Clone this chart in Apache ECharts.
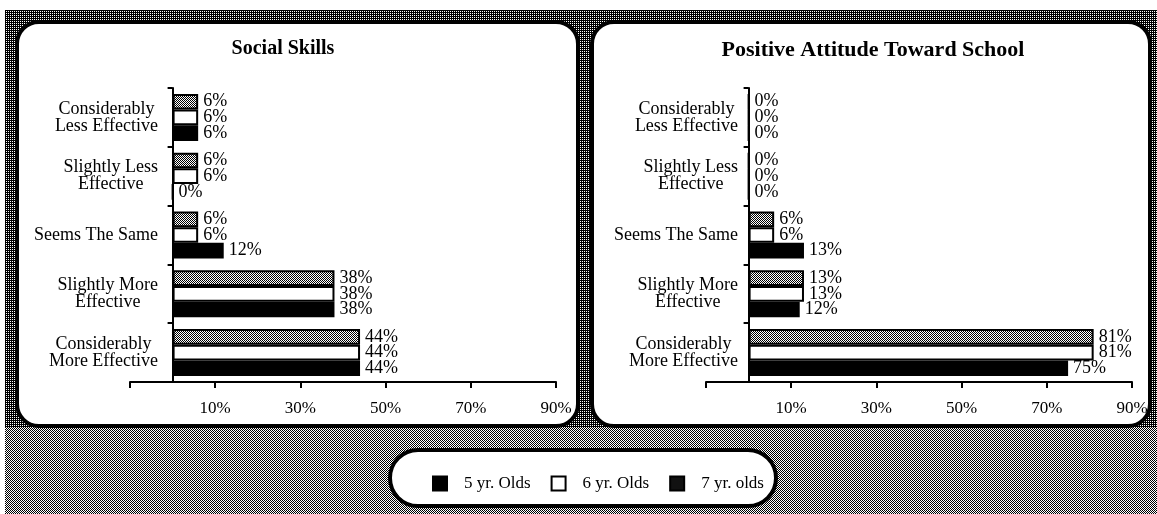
<!DOCTYPE html>
<html><head><meta charset="utf-8">
<script src="https://cdn.jsdelivr.net/npm/echarts@6/dist/echarts.min.js"></script>
<style>html,body{margin:0;padding:0;background:#fff;} #c{width:1157px;height:514px;}</style>
</head><body><div id="c"></div>
<script>
// ---- data ----
const categories = ['Considerably\nMore Effective','Slightly More\nEffective','Seems The Same','Slightly Less\nEffective','Considerably\nLess Effective'];
const seriesNames = ['7 yr. olds','6 yr. Olds','5 yr. Olds'];
const legendOrder = ['5 yr. Olds','6 yr. Olds','7 yr. olds'];
const titles = ['Social Skills','Positive Attitude Toward School'];
// values listed bottom category to top category
const social7 = [44,38,6,6,6];
const social6 = [44,38,6,6,6];
const social5 = [44,38,12,0,6];
const attitude7 = [81,13,6,0,0];
const attitude6 = [81,13,6,0,0];
const attitude5 = [75,12,13,0,0];
const tickValues = [-10,10,30,50,70,90];
const labelValues = [10,30,50,70,90];

// ---- patterns ----
function makePattern(size, blacks){
  const c=document.createElement('canvas'); c.width=c.height=size;
  const g=c.getContext('2d'); g.fillStyle='#fff'; g.fillRect(0,0,size,size);
  g.fillStyle='#000'; blacks.forEach(p=>g.fillRect(p[0],p[1],1,1)); return c;
}
const barPat = {image: makePattern(2,[[0,0],[1,1]]), repeat:'repeat'};
const bgPat = {image: makePattern(2,[[0,0],[1,1],[1,0]]), repeat:'repeat'};
const bgPat2 = {image: makePattern(2,[[0,0],[1,1]]), repeat:'repeat'};

const FONT='Liberation Serif';
const styles = {
  '7 yr. olds': {color: barPat, borderColor:'#000', borderWidth:2},
  '6 yr. Olds': {color: '#fff', borderColor:'#000', borderWidth:2},
  '5 yr. Olds': {color: '#000', borderColor:'#000', borderWidth:2}
};
const panels = [
  {left:130, center:283, titleSize:20, data:[social7, social6, social5], labelMargin:-28},
  {left:706, center:873, titleSize:22, data:[attitude7, attitude6, attitude5], labelMargin:-32}
];

const grid=[], xAxis=[], yAxis=[], series=[], title=[];
panels.forEach((p,i)=>{
  grid.push({left:p.left, top:88, width:426, height:294});
  title.push({text:titles[i], left:p.center, top:39, textAlign:'center', padding:0,
    textStyle:{fontFamily:FONT, fontSize:p.titleSize, fontWeight:'bold', color:'#000'}});
  xAxis.push({type:'value', gridIndex:i, min:-10, max:90,
    axisLine:{show:true, onZero:false, lineStyle:{color:'#000', width:2}},
    axisTick:{show:true, customValues:tickValues, length:6, lineStyle:{color:'#000', width:2}},
    axisLabel:{customValues:labelValues, formatter:'{value}%', margin:18, fontFamily:FONT, fontSize:17, color:'#000'},
    splitLine:{show:false}});
  yAxis.push({type:'category', gridIndex:i, data:categories,
    axisLine:{show:true, onZero:true, lineStyle:{color:'#000', width:2}},
    axisTick:{show:true, length:5, lineStyle:{color:'#000', width:2}},
    axisLabel:{margin:p.labelMargin, color:'#000',
      formatter:v=>v.split('\n').map(l=>'{c|'+l+'}').join('\n'),
      rich:{c:{align:'center', fontFamily:FONT, fontSize:18, lineHeight:17, color:'#000'}}}});
  seriesNames.forEach((n,k)=>{
    series.push({type:'bar', name:n, xAxisIndex:i, yAxisIndex:i, data:p.data[k],
      barGap:'0%', barCategoryGap:'20%', itemStyle:styles[n],
      label:{show:true, position:'right', distance:5, formatter:'{c}%', fontFamily:FONT, fontSize:18, color:'#000'}});
  });
});

const graphic = [
  {type:'rect', z:-100, shape:{x:5,y:10,width:1152,height:504}, style:{fill:bgPat}},
  {type:'rect', z:-99, shape:{x:5,y:428,width:1152,height:86}, style:{fill:bgPat2}},
  {type:'rect', z:-98, shape:{x:17,y:22,width:561,height:404,r:22}, style:{fill:'#fff', stroke:'#000', lineWidth:4}},
  {type:'rect', z:-98, shape:{x:592,y:22,width:558,height:404,r:22}, style:{fill:'#fff', stroke:'#000', lineWidth:4}},
  {type:'rect', z:-98, shape:{x:390,y:450,width:386,height:56,r:28}, style:{fill:'#fff', stroke:'#000', lineWidth:4}}
];

const chart = echarts.init(document.getElementById('c'), null, {renderer:'canvas'});
chart.setOption({
  animation:false,
  backgroundColor:'#fff',
  title, grid, xAxis, yAxis, series, graphic,
  legend:{data:legendOrder.map(n=>n==='7 yr. olds'?{name:n, itemStyle:{color:'#111', borderColor:'#000', borderWidth:2}}:{name:n}),
    left:427, top:470, itemWidth:14, itemHeight:14, itemGap:20, icon:'rect',
    textStyle:{fontFamily:FONT, fontSize:17, color:'#000', padding:[0,0,0,12]}}
});
</script></body></html>
